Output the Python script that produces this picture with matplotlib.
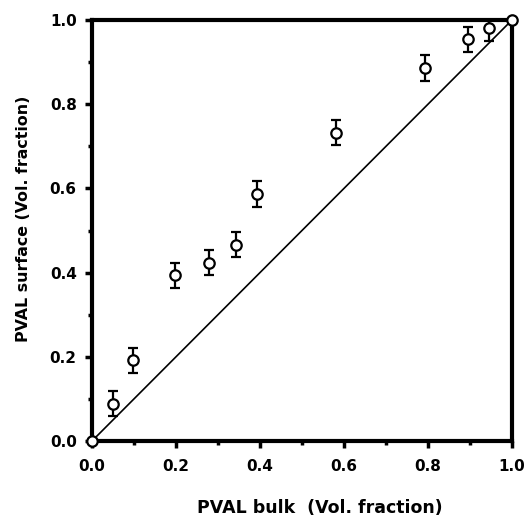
import numpy as np
import matplotlib.pyplot as plt
from matplotlib.ticker import MultipleLocator, FormatStrFormatter

plt.rcParams['font.family'] = ['DejaVu Sans']
plt.rcParams['font.weight'] = 'bold'

# PVAL bulk vs surface composition
bulk = [0.049, 0.097, 0.197, 0.279, 0.342, 0.392, 0.581, 0.793, 0.896, 0.946]
surface = [0.089, 0.192, 0.394, 0.424, 0.466, 0.587, 0.732, 0.886, 0.954, 0.980]
err = [0.03, 0.03, 0.03, 0.03, 0.03, 0.03, 0.03, 0.03, 0.03, 0.03]
ends_x = [0.0, 1.0]
ends_y = [0.0, 1.0]

fig = plt.figure(figsize=(5.25, 5.24), dpi=100)
ax = fig.add_axes([0.1752, 0.1584, 0.8, 0.8034])

ax.plot([0, 1], [0, 1], color='black', lw=1.2, zorder=2)
ax.errorbar(bulk, surface, yerr=err, fmt='o', mfc='white', mec='black',
            mew=1.6, ms=7.5, ecolor='black', elinewidth=1.6, capsize=3.5,
            capthick=1.6, zorder=3)
ax.plot(ends_x, ends_y, 'o', mfc='white', mec='black', mew=1.6, ms=7.5,
        clip_on=False, zorder=4)

ax.set_xlim(0, 1)
ax.set_ylim(0, 1)
ax.xaxis.set_major_locator(MultipleLocator(0.2))
ax.yaxis.set_major_locator(MultipleLocator(0.2))
ax.xaxis.set_minor_locator(MultipleLocator(0.1))
ax.yaxis.set_minor_locator(MultipleLocator(0.1))
ax.xaxis.set_major_formatter(FormatStrFormatter('%.1f'))
ax.yaxis.set_major_formatter(FormatStrFormatter('%.1f'))
ax.tick_params(which='major', direction='out', length=5, width=2.5,
               labelsize=11)
ax.tick_params(which='minor', direction='out', length=3, width=2.5)
ax.tick_params(axis='x', which='major', pad=8)
ax.tick_params(axis='y', which='major', pad=6)

for s in ax.spines.values():
    s.set_linewidth(3)

ax.set_xlabel('PVAL bulk  (Vol. fraction)', fontsize=12.5, fontweight='bold')
ax.set_ylabel('PVAL surface (Vol. fraction)', fontsize=11.4, fontweight='bold')
ax.xaxis.label.set_va('center')
ax.yaxis.label.set_va('center')
ax.xaxis.set_label_coords(0.543, -0.159)
ax.yaxis.set_label_coords(-0.162, 0.527)

fig.savefig('out.png', dpi=100)
